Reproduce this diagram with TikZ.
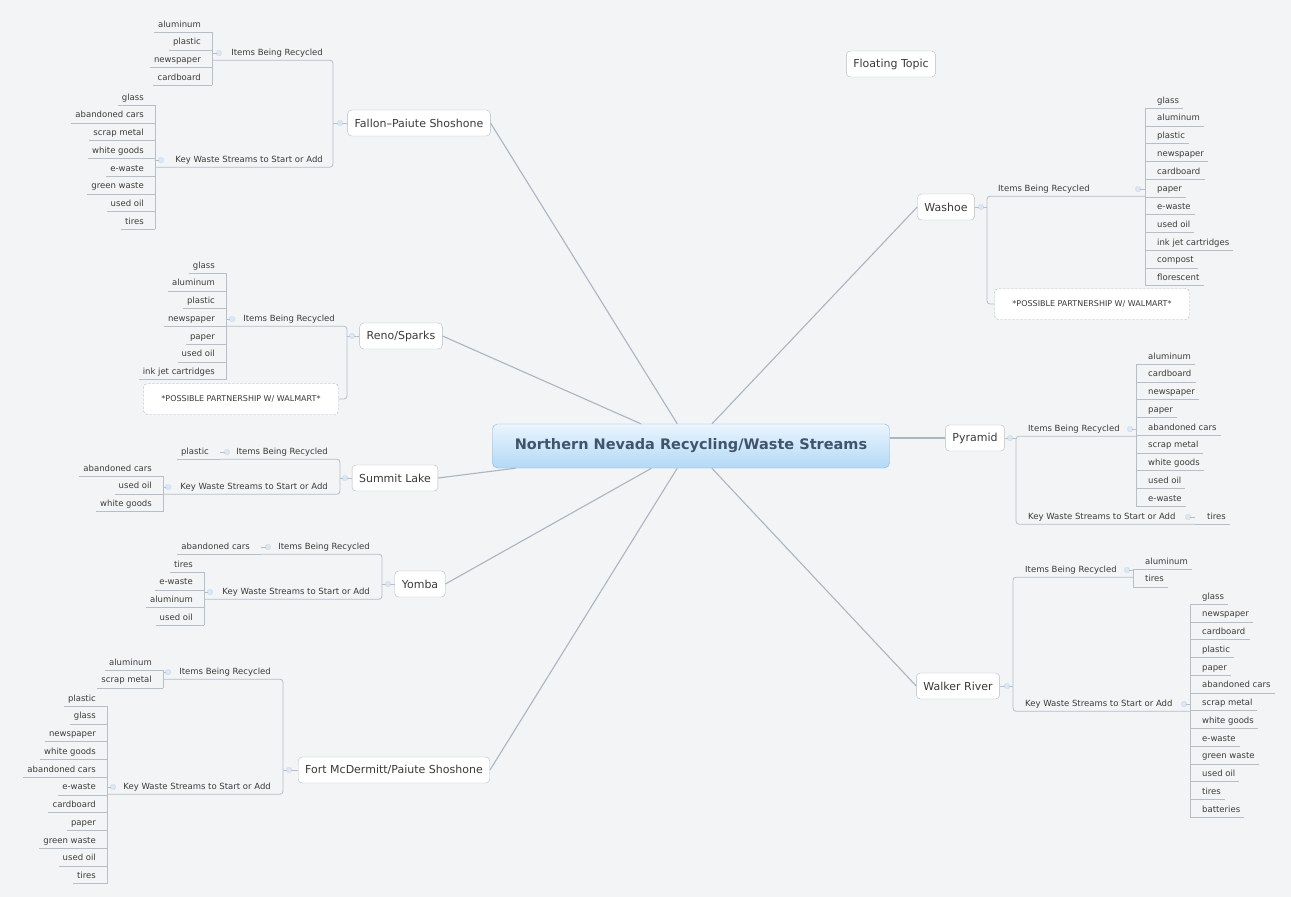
\documentclass[tikz,border=0pt]{standalone}
\usepackage{fontspec}
\setmainfont{DejaVu Sans}
\usetikzlibrary{positioning}
\definecolor{bgcol}{HTML}{F2F4F6}
\definecolor{linegray}{HTML}{B7BEC6}
\definecolor{spokegray}{HTML}{ADB5BD}
\definecolor{boxline}{HTML}{B5BCC4}
\definecolor{textgray}{HTML}{3A3A3A}
\definecolor{hubtop}{HTML}{EAF5FE}
\definecolor{hubbottom}{HTML}{B3D8F6}
\definecolor{hubline}{HTML}{8FB5D6}
\definecolor{hubtext}{HTML}{42546A}
\definecolor{markfill}{HTML}{DDE7F3}
\definecolor{markline}{HTML}{B9C9DD}
\tikzset{
  hub/.style={draw=hubline,rounded corners=5pt,top color=hubtop,bottom color=hubbottom,
    minimum width=397pt,minimum height=44pt,text=hubtext,font=\bfseries\fontsize{14.5}{17}\selectfont},
  topic/.style={draw=boxline,fill=white,rounded corners=4pt,minimum height=26pt,inner xsep=7pt,
    text=textgray,font=\fontsize{11}{13}\selectfont},
  subtopic/.style={inner xsep=2pt,inner ysep=3pt,text height=6pt,text depth=2pt,text=textgray,
    font=\fontsize{8.5}{10}\selectfont},
  leaf/.style={subtopic,inner xsep=4pt},
  marker/.style={draw=markline,fill=markfill,minimum size=4.5pt,inner sep=0pt,rounded corners=0.8pt},
  branch/.style={draw=linegray,line width=0.8pt},
  spoke/.style={draw=spokegray,line width=1.1pt},
  note/.style={draw=spokegray,dash pattern=on 2.5pt off 1.5pt,fill=white,rounded corners=4pt,
    minimum width=195pt,minimum height=31pt,text=textgray,font=\fontsize{8}{10}\selectfont}
}
% columns of leaves: #1 name, #2 x of the bar, #3 y of the first row, #4 labels
\newcommand{\leftleaves}[4]{%
  \coordinate (#1bar) at (#2,#3);
  \foreach \lbl [count=\k] in {#4}{%
    \node[leaf,anchor=east] (#1\k) at ({#2-7},{#3+17.75*(\k-1)}) {\lbl};
    \draw[branch] (#1\k.south west) -- (#1\k.south -| #1bar);
    \ifnum\k>1 \draw[branch] (#1\k.south -| #1bar) -- ++(0,-17.75);\fi
  }%
}
\newcommand{\rightleaves}[4]{%
  \coordinate (#1bar) at (#2,#3);
  \foreach \lbl [count=\k] in {#4}{%
    \node[leaf,anchor=west] (#1\k) at ({#2+8},{#3+17.75*(\k-1)}) {\lbl};
    \draw[branch] (#1\k.south -| #1bar) -- (#1\k.south east);
    \ifnum\k>1 \draw[branch] (#1\k.south -| #1bar) -- ++(0,-17.75);\fi
  }%
}

\begin{document}
\begin{tikzpicture}[x=1pt,y=-1pt]
\fill[bgcol] (0,0) rectangle (1291,897);
\useasboundingbox (0,0) rectangle (1291,897);
\node[hub] (streams) at (691,446) {Northern Nevada Recycling/Waste Streams};
\node[topic] (floating) at (891,64) {Floating Topic};
%
% Fallon
\node[topic] (fallon) at (419,123) {Fallon–Paiute Shoshone};
\node[subtopic,anchor=east] (fallonrec) at (325,53) {Items Being Recycled};
\node[subtopic,anchor=east] (fallonkey) at (325,160) {Key Waste Streams to Start or Add};
\leftleaves{fallonrecl}{212}{25}{aluminum,plastic,newspaper,cardboard}
\leftleaves{fallonkeyl}{155}{98}{glass,abandoned cars,scrap metal,white goods,e-waste,green waste,used oil,tires}
\coordinate (fallonbar) at (333,123);
\draw[branch] (fallon.west) -- (fallonbar);
\draw[branch,rounded corners=3pt] (fallonreclbar |- fallonrec.south) -- (fallonbar |- fallonrec.south)
  -- (fallonbar |- fallonkey.south) -- (fallonkeylbar |- fallonkey.south);
\node[marker] (fallonmk) at (340,123) {};
\node[marker] (fallonrecmk) at (219,53) {};
\node[marker] (fallonkeymk) at (161,160) {};
\draw[branch] (fallonrecmk.west) -- (fallonrecmk -| fallonreclbar);
\draw[branch] (fallonkeymk.west) -- (fallonkeymk -| fallonkeylbar);
%
% Reno/Sparks
\node[topic] (reno) at (401,336) {Reno/Sparks};
\node[subtopic,anchor=east] (renorec) at (337,319) {Items Being Recycled};
\leftleaves{renorecl}{226}{266}{glass,aluminum,plastic,newspaper,paper,used oil,ink jet cartridges}
\node[note] (renonote) at (241,399) {*POSSIBLE PARTNERSHIP W/ WALMART*};
\coordinate (renobar) at (347,336);
\draw[branch] (reno.west) -- (renobar);
\draw[branch,rounded corners=3pt] (renoreclbar |- renorec.south) -- (renobar |- renorec.south)
  -- (renobar |- renonote.east) -- (renonote.east);
\node[marker] (renomk) at (352,336) {};
\node[marker] (renorecmk) at (232,319) {};
\draw[branch] (renorecmk.west) -- (renorecmk -| renoreclbar);
%
% Summit Lake
\node[topic] (summit) at (395,478) {Summit Lake};
\node[subtopic,anchor=east] (summitrec) at (330,452) {Items Being Recycled};
\node[subtopic,anchor=east] (summitkey) at (330,487) {Key Waste Streams to Start or Add};
\leftleaves{summitrecl}{220}{452}{plastic}
\leftleaves{summitkeyl}{163}{469}{abandoned cars,used oil,white goods}
\coordinate (summitbar) at (340,478);
\draw[branch] (summit.west) -- (summitbar);
\draw[branch,rounded corners=3pt] (summitreclbar |- summitrec.south) -- (summitbar |- summitrec.south)
  -- (summitbar |- summitkey.south) -- (summitkeylbar |- summitkey.south);
\node[marker] (summitmk) at (345,478) {};
\node[marker] (summitrecmk) at (227,452) {};
\node[marker] (summitkeymk) at (168,487) {};
\draw[branch] (summitrecmk.west) -- (summitrecmk -| summitreclbar);
\draw[branch] (summitkeymk.west) -- (summitkeymk -| summitkeylbar);
%
% Yomba
\node[topic] (yomba) at (420,584) {Yomba};
\node[subtopic,anchor=east] (yombarec) at (372,547) {Items Being Recycled};
\node[subtopic,anchor=east] (yombakey) at (372,592) {Key Waste Streams to Start or Add};
\leftleaves{yombarecl}{261}{547}{abandoned cars}
\leftleaves{yombakeyl}{204}{565}{tires,e-waste,aluminum,used oil}
\coordinate (yombabar) at (382,584);
\draw[branch] (yomba.west) -- (yombabar);
\draw[branch,rounded corners=3pt] (yombareclbar |- yombarec.south) -- (yombabar |- yombarec.south)
  -- (yombabar |- yombakey.south) -- (yombakeylbar |- yombakey.south);
\node[marker] (yombamk) at (388,584) {};
\node[marker] (yombarecmk) at (268,547) {};
\node[marker] (yombakeymk) at (210,592) {};
\draw[branch] (yombarecmk.west) -- (yombarecmk -| yombareclbar);
\draw[branch] (yombakeymk.west) -- (yombakeymk -| yombakeylbar);
%
% Fort McDermitt
\node[topic] (fort) at (394,770) {Fort McDermitt/Paiute Shoshone};
\node[subtopic,anchor=east] (fortrec) at (273,672) {Items Being Recycled};
\node[subtopic,anchor=east] (fortkey) at (273,787) {Key Waste Streams to Start or Add};
\leftleaves{fortrecl}{163}{663}{aluminum,scrap metal}
\leftleaves{fortkeyl}{107}{699}{plastic,glass,newspaper,white goods,abandoned cars,e-waste,cardboard,paper,green waste,used oil,tires}
\coordinate (fortbar) at (283,770);
\draw[branch] (fort.west) -- (fortbar);
\draw[branch,rounded corners=3pt] (fortreclbar |- fortrec.south) -- (fortbar |- fortrec.south)
  -- (fortbar |- fortkey.south) -- (fortkeylbar |- fortkey.south);
\node[marker] (fortmk) at (289,770) {};
\node[marker] (fortrecmk) at (168,672) {};
\node[marker] (fortkeymk) at (113,787) {};
\draw[branch] (fortrecmk.west) -- (fortrecmk -| fortreclbar);
\draw[branch] (fortkeymk.west) -- (fortkeymk -| fortkeylbar);
%
% Washoe
\node[topic] (washoe) at (946,207) {Washoe};
\node[subtopic,anchor=west] (washoerec) at (996,189) {Items Being Recycled};
\rightleaves{washoerecl}{1145}{101}{glass,aluminum,plastic,newspaper,cardboard,paper,e-waste,used oil,ink jet cartridges,compost,florescent}
\node[note] (washoenote) at (1092,304) {*POSSIBLE PARTNERSHIP W/ WALMART*};
\coordinate (washoebar) at (987,207);
\draw[branch] (washoe.east) -- (washoebar);
\draw[branch,rounded corners=3pt] (washoereclbar |- washoerec.south) -- (washoebar |- washoerec.south)
  -- (washoebar |- washoenote.west) -- (washoenote.west);
\node[marker] (washoemk) at (981,207) {};
\node[marker] (washoerecmk) at (1138,189) {};
\draw[branch] (washoerecmk.east) -- (washoerecmk -| washoereclbar);
%
% Pyramid
\node[topic] (pyramid) at (975,438) {Pyramid};
\node[subtopic,anchor=west] (pyramidrec) at (1026,429) {Items Being Recycled};
\node[subtopic,anchor=west] (pyramidkey) at (1026,517) {Key Waste Streams to Start or Add};
\rightleaves{pyramidrecl}{1136}{357}{aluminum,cardboard,newspaper,paper,abandoned cars,scrap metal,white goods,used oil,e-waste}
\rightleaves{pyramidkeyl}{1195}{517}{tires}
\coordinate (pyramidbar) at (1016,438);
\draw[branch] (pyramid.east) -- (pyramidbar);
\draw[branch,rounded corners=3pt] (pyramidreclbar |- pyramidrec.south) -- (pyramidbar |- pyramidrec.south)
  -- (pyramidbar |- pyramidkey.south) -- (pyramidkeylbar |- pyramidkey.south);
\node[marker] (pyramidmk) at (1010,438) {};
\node[marker] (pyramidrecmk) at (1130,429) {};
\node[marker] (pyramidkeymk) at (1188,517) {};
\draw[branch] (pyramidrecmk.east) -- (pyramidrecmk -| pyramidreclbar);
\draw[branch] (pyramidkeymk.east) -- (pyramidkeymk -| pyramidkeylbar);
%
% Walker River
\node[topic] (walker) at (958,686) {Walker River};
\node[subtopic,anchor=west] (walkerrec) at (1023,570) {Items Being Recycled};
\node[subtopic,anchor=west] (walkerkey) at (1023,704) {Key Waste Streams to Start or Add};
\rightleaves{walkerrecl}{1133}{562}{aluminum,tires}
\rightleaves{walkerkeyl}{1190}{597}{glass,newspaper,cardboard,plastic,paper,abandoned cars,scrap metal,white goods,e-waste,green waste,used oil,tires,batteries}
\coordinate (walkerbar) at (1013,686);
\draw[branch] (walker.east) -- (walkerbar);
\draw[branch,rounded corners=3pt] (walkerreclbar |- walkerrec.south) -- (walkerbar |- walkerrec.south)
  -- (walkerbar |- walkerkey.south) -- (walkerkeylbar |- walkerkey.south);
\node[marker] (walkermk) at (1007,686) {};
\node[marker] (walkerrecmk) at (1127,570) {};
\node[marker] (walkerkeymk) at (1184,704) {};
\draw[branch] (walkerrecmk.east) -- (walkerrecmk -| walkerreclbar);
\draw[branch] (walkerkeymk.east) -- (walkerkeymk -| walkerkeylbar);
%
% spokes to the hub
\draw[spoke] (fallon.east) -- (streams);
\draw[spoke] (reno.east) -- (streams);
\draw[spoke] (summit.east) -- (streams);
\draw[spoke] (yomba.east) -- (streams);
\draw[spoke] (fort.east) -- (streams);
\draw[spoke] (washoe.west) -- (streams);
\draw[spoke] (pyramid.west) -- (pyramid.west -| streams.east);
\draw[spoke] (walker.west) -- (streams);
\end{tikzpicture}
\end{document}
